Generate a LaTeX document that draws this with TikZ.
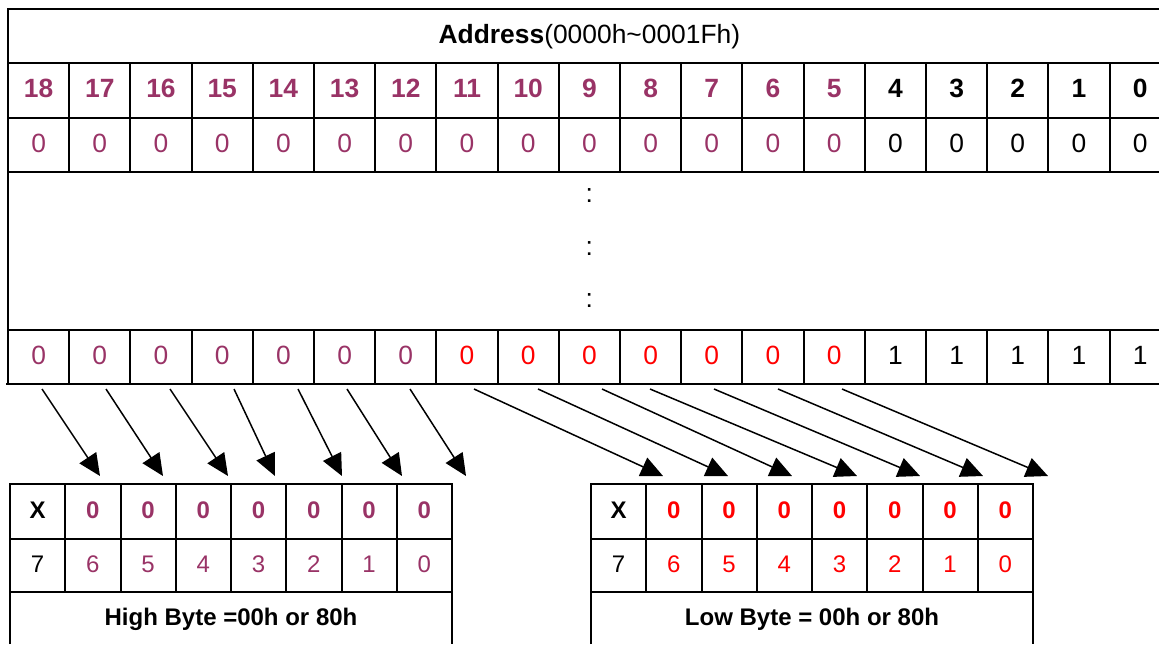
\documentclass[tikz,border=0pt]{standalone}
\usepackage{fontspec}
\setmainfont{Liberation Sans}
\usetikzlibrary{arrows.meta}
\definecolor{plum}{HTML}{993366}
\definecolor{bitred}{HTML}{FF0000}
\tikzset{
	cell/.style={inner sep=0pt, text height=0.72em, text depth=0pt, font=\fontsize{12}{14}\selectfont},
	head/.style={cell, font=\fontsize{12}{14}\selectfont\bfseries},
	bigcell/.style={cell, font=\fontsize{13.2}{15}\selectfont},
	bighead/.style={cell, font=\fontsize{13.2}{15}\selectfont\bfseries},
	dotrow/.style={inner sep=0pt, font=\fontsize{13.2}{15}\selectfont},
	grid/.style={line width=1pt},
	maparrow/.style={line width=0.75pt, -{Triangle[length=11pt, width=10pt]}}
}

\begin{document}
\begin{tikzpicture}[x=0.5pt, y=-0.5pt]
	\useasboundingbox (0,0) rectangle (1159,644);
	
	% address table
	\draw[grid] (1159,9) -- (8,9) -- (8,384);
	\foreach \y in {63,118,172,330} \draw[grid] (8,\y) -- (1159,\y);
	\draw[grid] (6,384) -- (1159,384);
	\foreach \i in {1,...,18} {
		\draw[grid] (8+61.2*\i,63) -- (8+61.2*\i,172);
		\draw[grid] (8+61.2*\i,330) -- (8+61.2*\i,384);
	}
	\node[bigcell] (addr) at (589.4,36) {\textbf{Address}(0000h\textasciitilde0001Fh)};
	\foreach \i in {0,...,18} {
		\pgfmathtruncatemacro\b{18-\i}
		\pgfmathsetmacro\cx{38.6+61.2*\i}
		\ifnum\b>4 \def\clr{plum}\else\def\clr{black}\fi
		\ifnum\b>11 \def\lclr{plum}\else\ifnum\b>4 \def\lclr{bitred}\else\def\lclr{black}\fi\fi
		\ifnum\b>4 \def\lval{0}\else\def\lval{1}\fi
		\node[bighead, text=\clr] (bit\b) at (\cx,90.5) {\b};
		\node[bigcell, text=\clr] (first\b) at (\cx,145) {0};
		\node[bigcell, text=\lclr] (last\b) at (\cx,357) {\lval};
	}
	\foreach \y [count=\k] in {196,248.5,301} \node[dotrow] (dots\k) at (589.4,\y) {:};
	
	% byte tables
	\foreach \x/\clr/\name/\lbl in {10/plum/high/{High Byte =00h or 80h}, 591/bitred/low/{Low Byte = 00h or 80h}} {
		\draw[grid] (\x,644) -- (\x,484) -- (\x+442,484) -- (\x+442,644);
		\draw[grid] (\x,539) -- (\x+442,539);
		\draw[grid] (\x,592) -- (\x+442,592);
		\foreach \j in {1,...,7} \draw[grid] (\x+55.25*\j,484) -- (\x+55.25*\j,592);
		\node[head] (\name-x) at (\x+27.6,511.5) {X};
		\node[cell] (\name-7) at (\x+27.6,565.5) {7};
		\foreach \j in {1,...,7} {
			\pgfmathtruncatemacro\b{7-\j}
			\node[head, text=\clr] (\name-v\b) at (\x+27.6+55.25*\j,511.5) {0};
			\node[cell, text=\clr] (\name-n\b) at (\x+27.6+55.25*\j,565.5) {\b};
		}
		\node[head] (\name-byte) at (\x+221,618) {\lbl};
	}
	
	% mapping arrows
	\foreach \s/\e [count=\k] in {42/100,106/163,170/228,234/275,298/342,347/402,410/466} {
		\coordinate (hs\k) at (\s,389);
		\coordinate (he\k) at (\e,476);
		\draw[maparrow] (hs\k) -- (he\k);
	}
	\foreach \s/\e [count=\k] in {474/663,538/728,602/792,650/857,714/920,778/983,842/1048} {
		\coordinate (ls\k) at (\s,389);
		\coordinate (le\k) at (\e,476);
		\draw[maparrow] (ls\k) -- (le\k);
	}
	
\end{tikzpicture}
\end{document}
